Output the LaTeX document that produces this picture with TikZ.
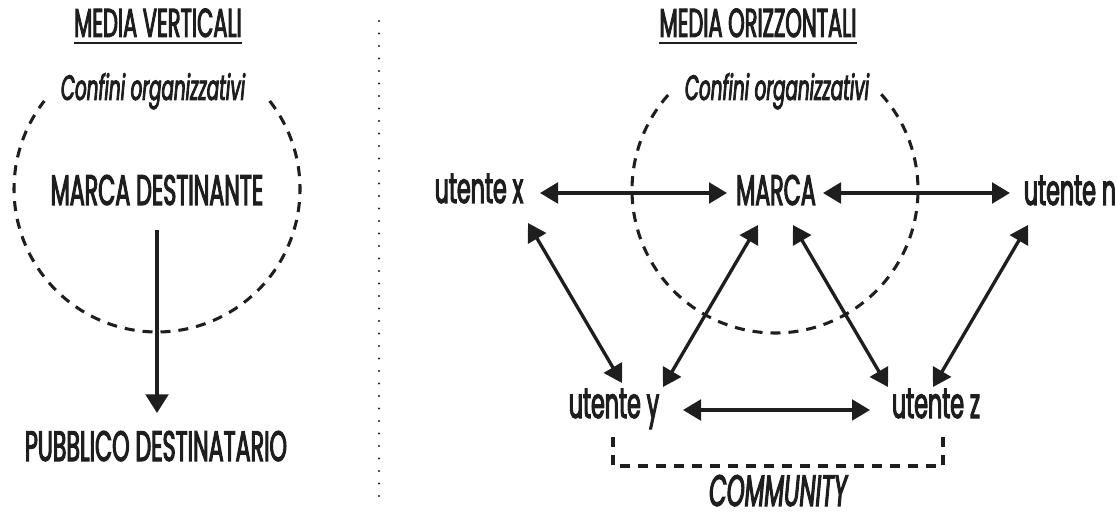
\documentclass[tikz,border=0pt]{standalone}
\usepackage{fontspec}
\setmainfont{Poppins}[FakeStretch=0.52, FakeBold=2.4]
\usetikzlibrary{arrows.meta,calc}
\definecolor{ink}{HTML}{1E1E1E}
\begin{document}
\begin{tikzpicture}[x=0.75pt,y=-0.75pt,
  lbl/.style={inner sep=0pt, anchor=base, text=ink},
  title/.style={lbl, font=\fontsize{30.3}{36}\selectfont},
  big/.style={lbl, font=\fontsize{32}{38}\selectfont},
  note/.style={lbl, font=\fontsize{26.4}{31}\selectfont\itshape},
  comm/.style={lbl, font=\fontsize{33}{40}\selectfont\itshape},
  bound/.style={draw=ink, line width=2.3pt, dash pattern=on 7.5pt off 6pt},
  rule/.style={draw=ink, line width=1.2pt},
  link/.style={draw=ink, line width=2.5pt, {Triangle[length=13.5pt,width=15.5pt]}-{Triangle[length=13.5pt,width=15.5pt]}},
  flow/.style={draw=ink, line width=2.5pt, -{Triangle[length=14pt,width=17pt]}}
]
\useasboundingbox (0,0) rectangle (1118,513);

% divider between the two halves
\coordinate (dTop) at (379,21);
\coordinate (dBot) at (379,497);
\draw[ink, line width=1.8pt, line cap=round, dash pattern=on 0pt off 9.375pt] (dTop) -- (dBot);

% ---- vertical media ----
\node[title] (h1) at (158,37) {MEDIA VERTICALI};
\draw[rule] ($(h1.base west)+(0,6)$) -- ($(h1.base east)+(0,6)$);
\coordinate (cL) at (157,189);
\draw[bound] ($(cL)+(-38:143)$) arc[start angle=-38, end angle=218, radius=143];
\node[note] (confL) at (153,100) {Confini organizzativi};
\node[big] (md) at (157,205) {MARCA DESTINANTE};
\node[big] (pd) at (156,461) {PUBBLICO DESTINATARIO};
\draw[flow] ($(md.base)+(0,25)$) -- ($(pd.base)+(1,-48)$);

% ---- horizontal media ----
\node[title] (h2) at (758,37) {MEDIA ORIZZONTALI};
\draw[rule] ($(h2.base west)+(0,6)$) -- ($(h2.base east)+(0,6)$);
\coordinate (cR) at (775,190);
\draw[bound] ($(cR)+(-42:143)$) arc[start angle=-42, end angle=222, radius=143];
\node[note] (confR) at (777,100) {Confini organizzativi};

\node[big] (ux) at (479,203) {utente x};
\node[big] (marca) at (776,205) {MARCA};
\node[big] (un) at (1070,205) {utente n};
\node[big] (uy) at (614,418) {utente y};
\node[big] (uz) at (936,418) {utente z};

\draw[link] ($(ux.base)+(61,-10)$) -- ($(marca.base)+(-49,-12)$);
\draw[link] ($(marca.base)+(47,-12)$) -- ($(un.base)+(-60,-12)$);
\draw[link] ($(uy.base)+(69,-8)$) -- ($(uz.base)+(-66,-8)$);
\draw[link] ($(ux.base)+(49,20)$) -- ($(uy.base)+(8,-35)$);
\draw[link] ($(uy.base)+(49,-31)$) -- ($(marca.base)+(-18,20)$);
\draw[link] ($(marca.base)+(17,20)$) -- ($(uz.base)+(-48,-31)$);
\draw[link] ($(un.base)+(-42,20)$) -- ($(uz.base)+(-3,-31)$);

% community bracket
\draw[bound] ($(uy.base)+(-1,19)$) -- ($(uy.base)+(-1,48)$) -- ($(uz.base)+(7,48)$) -- ($(uz.base)+(7,19)$);
\node[comm] (comm) at (778,506) {COMMUNITY};
\end{tikzpicture}
\end{document}
